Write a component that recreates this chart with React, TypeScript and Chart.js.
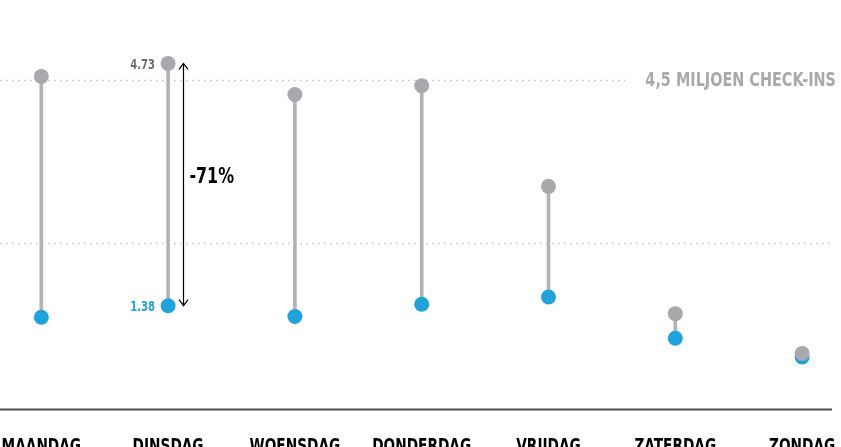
import React, { useEffect, useRef } from "react";
import { Chart, registerables } from "chart.js";

Chart.register(...registerables);

// ---- data ----
const categories = ["MAANDAG", "DINSDAG", "WOENSDAG", "DONDERDAG", "VRIJDAG", "ZATERDAG", "ZONDAG"];
const checkInsBefore = [4.55, 4.73, 4.3, 4.42, 3.03, 1.27, 0.72];
const checkInsAfter = [1.22, 1.38, 1.23, 1.4, 1.5, 0.93, 0.67];
const referenceLines = [4.5, 2.25];
const referenceLabel = "4,5 MILJOEN CHECK-INS";
const highlightIndex = 1;
const highlightBeforeLabel = "4.73";
const highlightAfterLabel = "1.38";
const changeLabel = "-71%";

// ---- styles ----
const GRAY = "#a7a9ac";
const STEM = "#b3b3b3";
const BLUE = "#1fa3dd";
const W = 841;
const H = 447;

function pickFont(): { family: string; sx: number } {
  const c = document.createElement("canvas").getContext("2d") as CanvasRenderingContext2D;
  const test = "DINSDAG";
  c.font = "bold 19px monospace";
  const mono = c.measureText(test).width;
  const candidates = ["Liberation Sans Narrow", "DejaVu Sans Condensed", "Roboto Condensed", "Liberation Sans"];
  let family = '"Liberation Sans"';
  for (const f of candidates) {
    c.font = `bold 19px "${f}", monospace`;
    if (Math.abs(c.measureText(test).width - mono) > 0.5) {
      family = `"${f}"`;
      break;
    }
  }
  c.font = `bold 19px ${family}, sans-serif`;
  const w = c.measureText(test).width;
  return { family, sx: Math.min(1, 71 / w) };
}

export default function App() {
  const ref = useRef<HTMLCanvasElement | null>(null);

  useEffect(() => {
    if (!ref.current) return;
    const font = pickFont();

    const text = (
      ctx: CanvasRenderingContext2D,
      s: string,
      x: number,
      y: number,
      size: number,
      color: string,
      align: CanvasTextAlign,
      baseline: CanvasTextBaseline
    ) => {
      ctx.save();
      ctx.font = `bold ${size}px ${font.family}, sans-serif`;
      ctx.fillStyle = color;
      ctx.textAlign = align;
      ctx.textBaseline = baseline;
      ctx.translate(x, y);
      ctx.scale(font.sx, 1);
      ctx.fillText(s, 0, 0);
      ctx.restore();
    };

    const overlay = {
      id: "overlay",
      beforeDatasetsDraw(chart: any) {
        const ctx: CanvasRenderingContext2D = chart.ctx;
        const xs = chart.scales.x;
        const ys = chart.scales.y;
        ctx.save();
        // dotted reference lines
        ctx.strokeStyle = "#c2c2c2";
        ctx.lineWidth = 1.5;
        ctx.setLineDash([1.5, 4.5]);
        referenceLines.forEach((v, i) => {
          const y = Math.round(ys.getPixelForValue(v)) + 0.5;
          ctx.beginPath();
          ctx.moveTo(0, y);
          ctx.lineTo(i === 0 ? 625 : 830, y);
          ctx.stroke();
        });
        ctx.setLineDash([]);
        // axis line
        const ay = ys.getPixelForValue(0) + 4;
        ctx.strokeStyle = "#4d4d4d";
        ctx.lineWidth = 2;
        ctx.beginPath();
        ctx.moveTo(0, ay);
        ctx.lineTo(832, ay);
        ctx.stroke();
        ctx.restore();
        // category labels
        categories.forEach((c, i) => {
          text(ctx, c, xs.getPixelForValue(i), 452, 19, "#000", "center", "alphabetic");
        });
      },
      afterDatasetsDraw(chart: any) {
        const ctx: CanvasRenderingContext2D = chart.ctx;
        const xs = chart.scales.x;
        const ys = chart.scales.y;
        // reference label
        text(ctx, referenceLabel, 836, ys.getPixelForValue(referenceLines[0]) + 1, 20, GRAY, "right", "middle");
        const hx = xs.getPixelForValue(highlightIndex);
        const yTop = ys.getPixelForValue(checkInsBefore[highlightIndex]);
        const yBot = ys.getPixelForValue(checkInsAfter[highlightIndex]);
        text(ctx, highlightBeforeLabel, hx - 13, yTop + 2, 14, "#6d6e71", "right", "middle");
        text(ctx, highlightAfterLabel, hx - 13, yBot + 2, 14, BLUE, "right", "middle");
        // arrow
        const ax = Math.round(hx + 15) + 0.5;
        ctx.save();
        ctx.strokeStyle = "#000";
        ctx.lineWidth = 1.2;
        ctx.beginPath();
        ctx.moveTo(ax, yTop);
        ctx.lineTo(ax, yBot);
        ctx.moveTo(ax - 4.5, yTop + 6);
        ctx.lineTo(ax, yTop);
        ctx.lineTo(ax + 4.5, yTop + 6);
        ctx.moveTo(ax - 4.5, yBot - 6);
        ctx.lineTo(ax, yBot);
        ctx.lineTo(ax + 4.5, yBot - 6);
        ctx.stroke();
        ctx.restore();
        text(ctx, changeLabel, ax + 6, (yTop + yBot) / 2 - 7, 22, "#000", "left", "middle");
      },
    };

    const spacing = 126.8;
    const x0 = 41.3;
    const pxPerUnit = 72.33;
    const zeroY = 405.5;

    const chart = new Chart(ref.current, {
      type: "scatter",
      data: {
        datasets: [
          {
            type: "scatter",
            label: "voor",
            data: checkInsBefore.map((v, i) => ({ x: i, y: v })),
            backgroundColor: GRAY,
            borderWidth: 0,
            pointRadius: 7.5,
            order: 0,
          },
          {
            type: "scatter",
            label: "na",
            data: checkInsAfter.map((v, i) => ({ x: i, y: v })),
            backgroundColor: BLUE,
            borderWidth: 0,
            pointRadius: 7.5,
            order: 1,
          },
          {
            type: "bar",
            label: "verschil",
            data: categories.map((_, i) => ({ x: i, y: [checkInsAfter[i], checkInsBefore[i]] })),
            backgroundColor: STEM,
            barThickness: 3,
            borderWidth: 0,
            order: 2,
          } as any,
        ],
      },
      options: {
        animation: false,
        responsive: false,
        devicePixelRatio: 1,
        events: [],
        layout: { padding: 0, autoPadding: false },
        plugins: { legend: { display: false }, tooltip: { enabled: false } },
        scales: {
          x: {
            type: "linear",
            display: false,
            offset: false,
            min: -x0 / spacing,
            max: (W - x0) / spacing,
          },
          y: {
            type: "linear",
            display: false,
            offset: false,
            min: -(H - zeroY) / pxPerUnit,
            max: zeroY / pxPerUnit,
          },
        },
      },
      plugins: [overlay],
    } as any);

    return () => chart.destroy();
  }, []);

  return (
    <div style={{ position: "fixed", left: 0, top: 0, width: W, height: H, background: "#fff" }}>
      <canvas ref={ref} width={W} height={H} style={{ display: "block", width: W, height: H }} />
    </div>
  );
}
